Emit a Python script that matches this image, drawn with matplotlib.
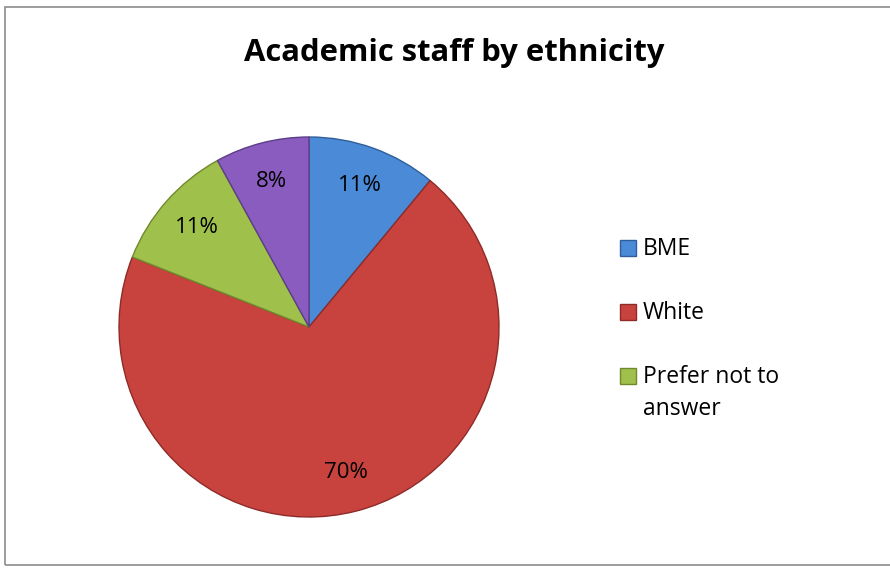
import matplotlib
matplotlib.use("Agg")
import matplotlib.pyplot as plt
from matplotlib.patches import Rectangle
import textwrap

# Academic staff by ethnicity (share of staff, %)
categories = ["BME", "White", "Prefer not to answer", "Not known"]
shares = [11, 70, 11, 8]
legend_categories = categories[:3]

slice_colors = ["#4a8ad6", "#c9433e", "#a0c04c", "#8a5cc0"]
edge_colors = ["#2f5f9a", "#8e2b28", "#6f8a2e", "#5d3d86"]

W, H, DPI = 890, 570, 100
fig = plt.figure(figsize=(W / DPI, H / DPI), dpi=DPI)
fig.patch.set_facecolor("white")

# chart-area border
fig.add_artist(Rectangle((5 / W, 5 / H), (W + 10) / W, (H - 12) / H,
                         transform=fig.transFigure, fill=False,
                         edgecolor="#8c8c8c", linewidth=1.2))

FONT = ["Open Sans", "DejaVu Sans"]

fig.text(454 / W, 1 - 53 / H, "Academic staff by ethnicity", ha="center",
         va="center", fontsize=22.3, fontweight="bold", family=FONT)

# pie area: centre (309, 327) px, radius 190 px
cx, cy, r = 309, 327, 190
ax = fig.add_axes([(cx - r) / W, (H - cy - r) / H, 2 * r / W, 2 * r / H])
wedges, texts = ax.pie(
    shares, colors=slice_colors, startangle=90, counterclock=False,
    radius=1.0, labels=[f"{v}%" for v in shares], labeldistance=0.79,
    wedgeprops=dict(linewidth=1.0),
    textprops=dict(fontsize=16, family=FONT, color="black",
                   ha="center", va="center"))
for w, ec in zip(wedges, edge_colors):
    w.set_edgecolor(ec)
ax.set_xlim(-1.0, 1.0)
ax.set_ylim(-1.0, 1.0)
ax.set_aspect("equal")
ax.axis("off")

# legend
lx, ly0, step = 628, 248, 64
for i, (name, col, ec) in enumerate(zip(legend_categories, slice_colors, edge_colors)):
    y = ly0 + i * step
    fig.add_artist(Rectangle(((lx - 8) / W, 1 - (y + 8) / H), 16 / W, 16 / H,
                             transform=fig.transFigure, facecolor=col,
                             edgecolor=ec, linewidth=1.0))
    label = "\n".join(textwrap.wrap(name, 13))
    fig.text((lx + 15) / W, 1 - (y - 11) / H, label, ha="left", va="top",
             fontsize=16.5, family=FONT, linespacing=1.42)

fig.savefig("out.png", dpi=DPI)
